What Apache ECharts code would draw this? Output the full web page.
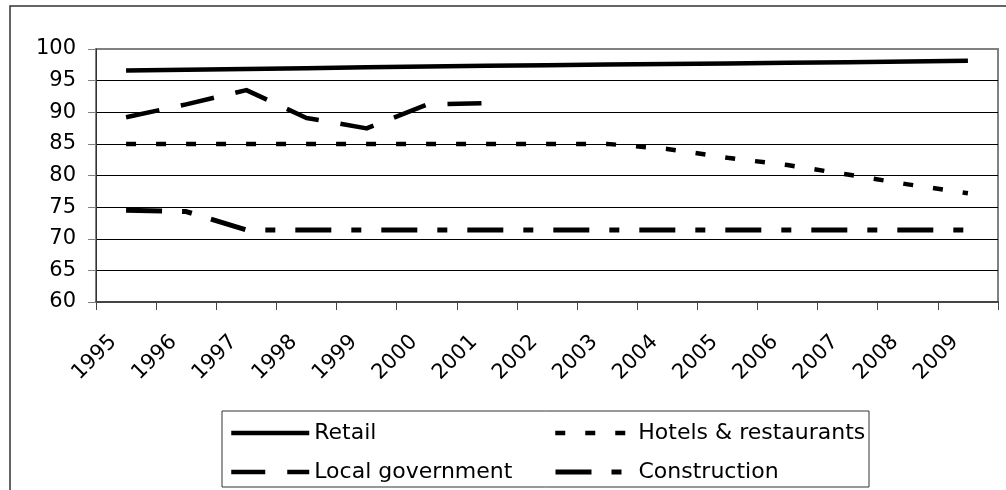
<!DOCTYPE html>
<html>
<head>
<meta charset="utf-8">
<script src="https://cdn.jsdelivr.net/npm/echarts@6/dist/echarts.min.js"></script>
<style>
html,body{margin:0;padding:0;background:#fff;}
#chart{width:1006px;height:490px;}
</style>
</head>
<body>
<div id="chart"></div>
<script>
const years = ['1995','1996','1997','1998','1999','2000','2001','2002','2003','2004','2005','2006','2007','2008','2009'];
const retail = [96.6, 96.72, 96.85, 96.97, 97.1, 97.22, 97.35, 97.44, 97.53, 97.62, 97.7, 97.81, 97.92, 98.03, 98.15];
const hotels = [85, 85, 85, 85, 85, 85, 85, 85, 85, 84.2, 82.8, 81.65, 80.15, 78.6, 77.2];
const localGov = [89.2, 91.25, 93.5, 89.1, 87.45, 91.2, 91.45, null, null, null, null, null, null, null, null];
const construction = [74.5, 74.3, 71.4, 71.4, 71.4, 71.4, 71.4, 71.4, 71.4, 71.4, 71.4, 71.4, 71.4, 71.4, 71.4];
const yTicks = {min: 60, max: 100, interval: 5};

const FONT = 'DejaVu Sans';
const chart = echarts.init(document.getElementById('chart'), null, {renderer: 'canvas'});

function lineSeries(name, data, width, type) {
  return {
    name: name, type: 'line', data: data, symbol: 'none', smooth: false,
    connectNulls: false, animation: false,
    lineStyle: {color: '#000', width: width, type: type, cap: 'butt', join: 'round'},
    itemStyle: {color: '#000'}
  };
}

function legendFor(name, left, top, width) {
  return {
    data: [name], left: left, top: top, orient: 'horizontal',
    itemWidth: 78, itemHeight: 14, itemGap: 0, padding: 0,
    itemStyle: {opacity: 0, borderWidth: 0},
    lineStyle: {width: width, color: '#000'},
    textStyle: {fontFamily: FONT, fontSize: 22, color: '#000', lineHeight: 22},
    selectedMode: false, z: 10
  };
}

chart.setOption({
  animation: false,
  backgroundColor: '#fff',
  graphic: [
    {type: 'rect', shape: {x: 10, y: 6, width: 1100, height: 600}, style: {fill: 'none', stroke: '#333', lineWidth: 1.5}, z: 0, silent: true},
    {type: 'rect', shape: {x: 222, y: 411, width: 647, height: 76}, style: {fill: '#fff', stroke: '#333', lineWidth: 1}, z: 1, silent: true}
  ],
  grid: {left: 96, top: 49, right: 8, bottom: 188, show: true, borderColor: '#808080', borderWidth: 2, containLabel: false},
  legend: [
    legendFor('Retail', 229, 422, 4.5),
    legendFor('Local government', 229, 461, 4.5),
    legendFor('Hotels & restaurants', 553, 422, 4.5),
    legendFor('Construction', 553, 461, 5)
  ],
  xAxis: {
    type: 'category', data: years, boundaryGap: true,
    axisLine: {show: true, lineStyle: {color: '#444', width: 2}},
    axisTick: {show: true, length: 8, inside: false, lineStyle: {color: '#444', width: 1}},
    axisLabel: {rotate: 45, margin: 24, padding: [0, 18, 0, 0], fontFamily: FONT, fontSize: 21, color: '#000', interval: 0},
    splitLine: {show: false}
  },
  yAxis: {
    type: 'value', min: yTicks.min, max: yTicks.max, interval: yTicks.interval,
    axisLine: {show: true, lineStyle: {color: '#333', width: 1}},
    axisTick: {show: true, length: 8, lineStyle: {color: '#808080', width: 1}},
    axisLabel: {margin: 20, fontFamily: FONT, fontSize: 21, color: '#000'},
    splitLine: {show: true, showMinLine: false, showMaxLine: false, lineStyle: {color: '#000', width: 1}}
  },
  series: [
    lineSeries('Retail', retail, 4.5, 'solid'),
    lineSeries('Hotels & restaurants', hotels, 4.5, [10, 20]),
    lineSeries('Local government', localGov, 4.5, [34, 22]),
    lineSeries('Construction', construction, 5, [36, 20, 10, 20])
  ]
});
</script>
</body>
</html>
